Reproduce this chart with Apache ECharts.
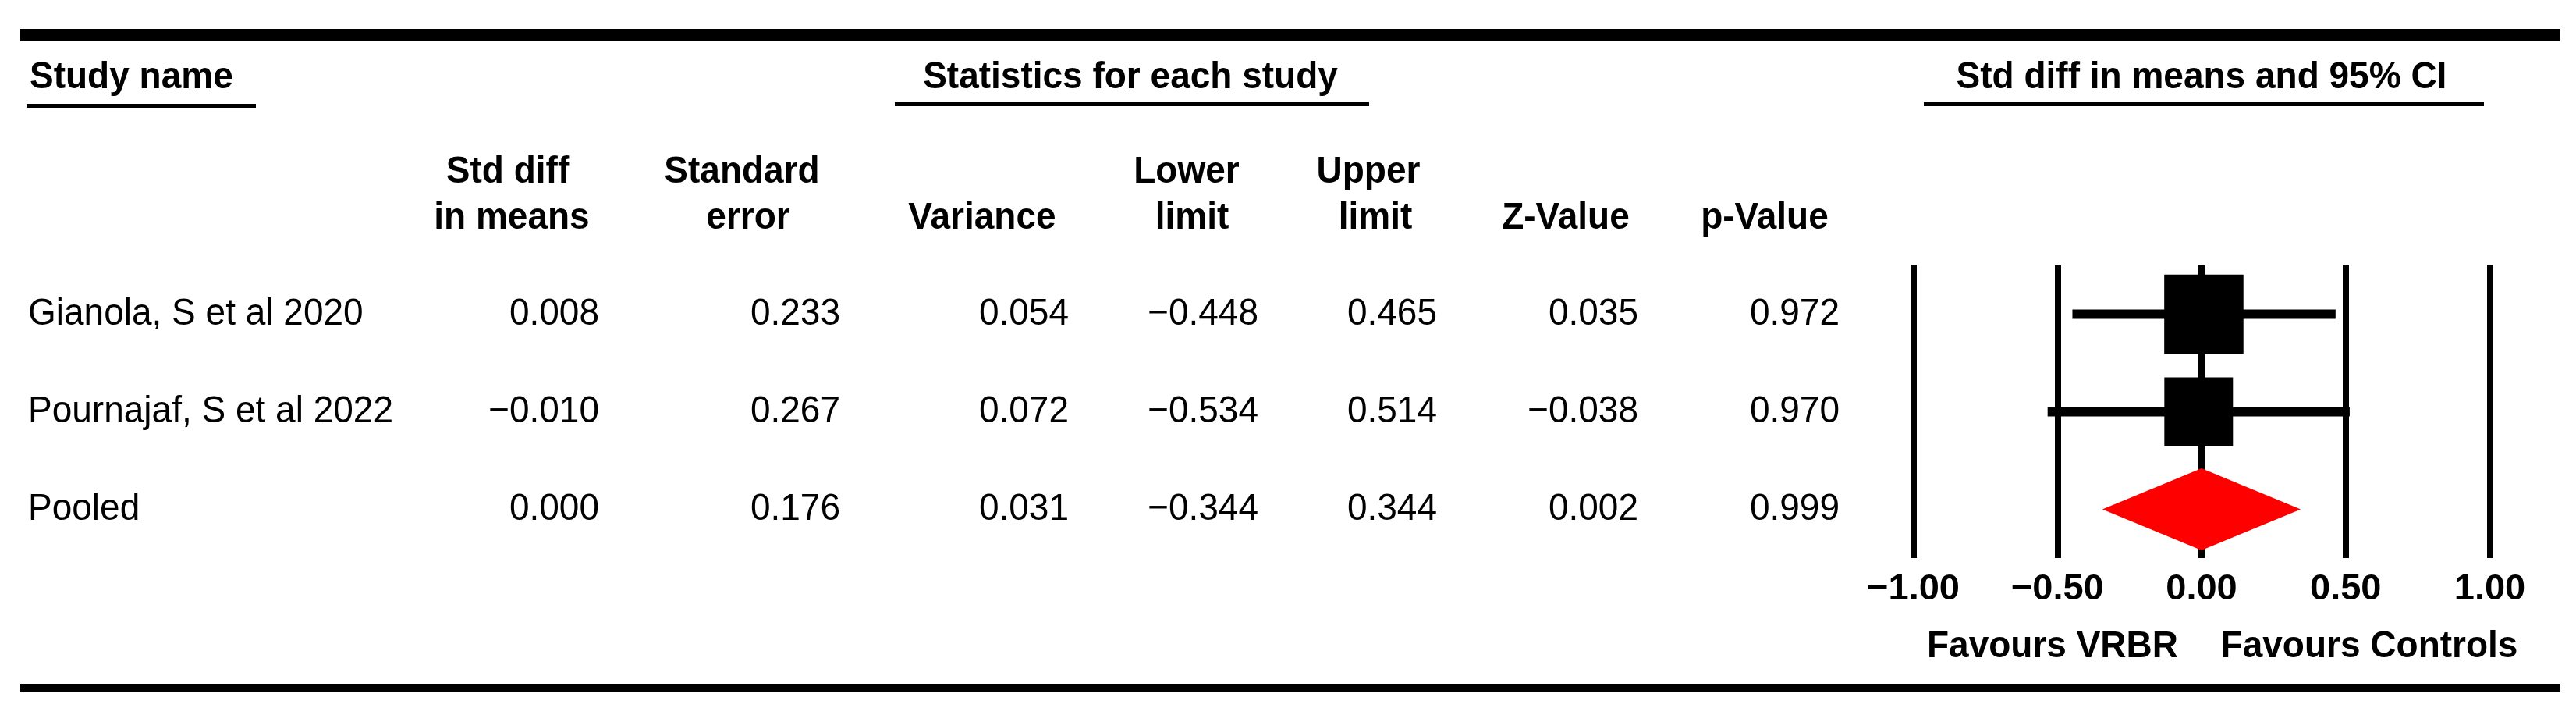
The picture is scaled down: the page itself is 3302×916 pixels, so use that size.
<!DOCTYPE html>
<html>
<head>
<meta charset="utf-8">
<script src="https://cdn.jsdelivr.net/npm/echarts@6/dist/echarts.min.js"></script>
<style>
  html, body { margin: 0; padding: 0; background: #fff; }
  #chart { width: 3302px; height: 916px; }
</style>
</head>
<body>
<div id="chart"></div>
<script>
// ---------- data ----------
const studies = ['Gianola, S et al 2020', 'Pournajaf, S et al 2022', 'Pooled'];
const isPooled = [false, false, true];
const stdDiff = [0.008, -0.010, 0.000];
const stdErr = [0.233, 0.267, 0.176];
const variance = [0.054, 0.072, 0.031];
const lowerLimit = [-0.448, -0.534, -0.344];
const upperLimit = [0.465, 0.514, 0.344];
const zValue = [0.035, -0.038, 0.002];
const pValue = [0.972, 0.970, 0.999];
const xTicks = [-1.00, -0.50, 0.00, 0.50, 1.00];
const groupHeaders = ['Study name', 'Statistics for each study', 'Std diff in means and 95% CI'];
const colHeaders = [['Std diff', 'in means'], ['Standard', 'error'], ['Variance'], ['Lower', 'limit'], ['Upper', 'limit'], ['Z-Value'], ['p-Value']];
const favourLabels = ['Favours VRBR', 'Favours Controls'];

// ---------- layout (pixels) ----------
const W = 3302, H = 916;
const FONT = '"Liberation Sans", Arial, Helvetica, sans-serif';
const FS = 46;
const plotTop = 340, plotHeight = 375;
const plotLeft = 2452.5, plotRight = W - 3191.5;
const nameX = 36;
const colRight = [768, 1077, 1370, 1613, 1842, 2100, 2358];
const headerCenters = [[651, 656], [951, 959], [1259], [1521, 1528], [1754, 1763], [2007], [2262]];
const headerLineY = [221, 280];

const columns = [stdDiff, stdErr, variance, lowerLimit, upperLimit, zValue, pValue];
const fmt = (v, d) => (v < 0 ? '\u2212' : '') + Math.abs(v).toFixed(d);

function txt(x, y, text, opts) {
  opts = opts || {};
  return {
    type: 'text', x: x, y: y, scaleY: 1.05, silent: true,
    style: {
      text: text, fill: '#000',
      fontSize: FS, fontFamily: FONT, fontWeight: opts.bold ? 'bold' : 'normal',
      align: opts.align || 'left', verticalAlign: 'middle',
      textAlign: opts.align || 'left', textVerticalAlign: 'middle'
    }
  };
}
function rule(x1, x2, y, h) {
  return { type: 'rect', silent: true, shape: { x: x1, y: y, width: x2 - x1, height: h }, style: { fill: '#000' } };
}

const graphics = [];
// top & bottom rules
graphics.push(rule(25, 3281, 37, 15));
graphics.push(rule(25, 3281, 876, 11));
// group headers with underlines
graphics.push(txt(38, 100, groupHeaders[0], { bold: true }));
graphics.push(rule(34, 328, 133, 5));
graphics.push(txt(1449, 100, groupHeaders[1], { bold: true, align: 'center' }));
graphics.push(rule(1147, 1755, 131, 5));
graphics.push(txt(2822, 100, groupHeaders[2], { bold: true, align: 'center' }));
graphics.push(rule(2466, 3184, 131, 5));
// column headers
colHeaders.forEach((lines, k) => {
  const startLine = 2 - lines.length;
  lines.forEach((l, j) => {
    graphics.push(txt(headerCenters[k][j], headerLineY[startLine + j], l, { bold: true, align: 'center' }));
  });
});
// favours labels
graphics.push(txt(2631, 829, favourLabels[0], { bold: true, align: 'center' }));
graphics.push(txt(3037, 829, favourLabels[1], { bold: true, align: 'center' }));

const studyIdx = studies.map((s, i) => i).filter(i => !isPooled[i]);
const pooledIdx = studies.map((s, i) => i).filter(i => isPooled[i]);

const option = {
  animation: false,
  backgroundColor: '#fff',
  graphic: graphics,
  grid: [
    { left: plotLeft, right: plotRight, top: plotTop, height: plotHeight, outerBoundsMode: 'none', containLabel: false },
    { left: 0, width: W, top: plotTop, height: plotHeight, outerBoundsMode: 'none', containLabel: false }
  ],
  xAxis: [
    {
      gridIndex: 0, type: 'value',
      min: xTicks[0], max: xTicks[xTicks.length - 1], interval: xTicks[1] - xTicks[0],
      axisLine: { show: false }, axisTick: { show: false },
      splitLine: { show: true, showMinLine: true, showMaxLine: true, lineStyle: { color: '#000', width: 8 } },
      axisLabel: {
        show: true, margin: 17, color: '#000', fontSize: 47, fontWeight: 'bold', fontFamily: FONT,
        formatter: v => fmt(v, 2)
      }
    },
    { gridIndex: 1, type: 'value', min: 0, max: W, show: false }
  ],
  yAxis: [
    { gridIndex: 0, type: 'category', data: studies, inverse: true, show: false },
    { gridIndex: 1, type: 'category', data: studies, inverse: true, show: false }
  ],
  series: [
    {
      type: 'custom', name: 'ci', xAxisIndex: 0, yAxisIndex: 0, z: 3,
      encode: { x: [0, 1], y: 2 },
      data: studyIdx.map(i => [lowerLimit[i], upperLimit[i], i]),
      renderItem: (params, api) => {
        const idx = api.value(2);
        const p1 = api.coord([api.value(0), idx]);
        const p2 = api.coord([api.value(1), idx]);
        return { type: 'rect', shape: { x: p1[0], y: p1[1] - 6, width: p2[0] - p1[0], height: 12 }, style: { fill: '#000' } };
      }
    },
    {
      type: 'scatter', name: 'effect', xAxisIndex: 0, yAxisIndex: 0, z: 4,
      symbol: 'rect',
      symbolSize: val => 23.6 * Math.sqrt(1 / val[2]),
      itemStyle: { color: '#000', opacity: 1 },
      data: studyIdx.map(i => [stdDiff[i], i, variance[i]])
    },
    {
      type: 'custom', name: 'pooled', xAxisIndex: 0, yAxisIndex: 0, z: 4,
      encode: { x: [0, 1, 2], y: 3 },
      data: pooledIdx.map(i => [lowerLimit[i], upperLimit[i], stdDiff[i], i]),
      renderItem: (params, api) => {
        const idx = api.value(3);
        const l = api.coord([api.value(0), idx]);
        const r = api.coord([api.value(1), idx]);
        const c = api.coord([api.value(2), idx]);
        const half = api.size([0, 1])[1] * 0.42;
        return {
          type: 'polygon',
          shape: { points: [[l[0], c[1]], [c[0], c[1] - half], [r[0], c[1]], [c[0], c[1] + half]] },
          style: { fill: '#ff0000' }
        };
      }
    },
    {
      type: 'custom', name: 'table', xAxisIndex: 1, yAxisIndex: 1, z: 5,
      encode: { x: 0, y: 1 },
      data: studies.map((s, i) => [0, i]),
      renderItem: (params, api) => {
        const i = api.value(1);
        const children = [];
        const y = api.coord([0, i])[1];
        children.push(txt(api.coord([nameX, i])[0], y, studies[i]));
        columns.forEach((col, k) => {
          children.push(txt(api.coord([colRight[k], i])[0], y, fmt(col[i], 3), { align: 'right' }));
        });
        return { type: 'group', children: children };
      }
    }
  ]
};

const chart = echarts.init(document.getElementById('chart'), null, { renderer: 'canvas', width: W, height: H });
chart.setOption(option);
</script>
</body>
</html>
